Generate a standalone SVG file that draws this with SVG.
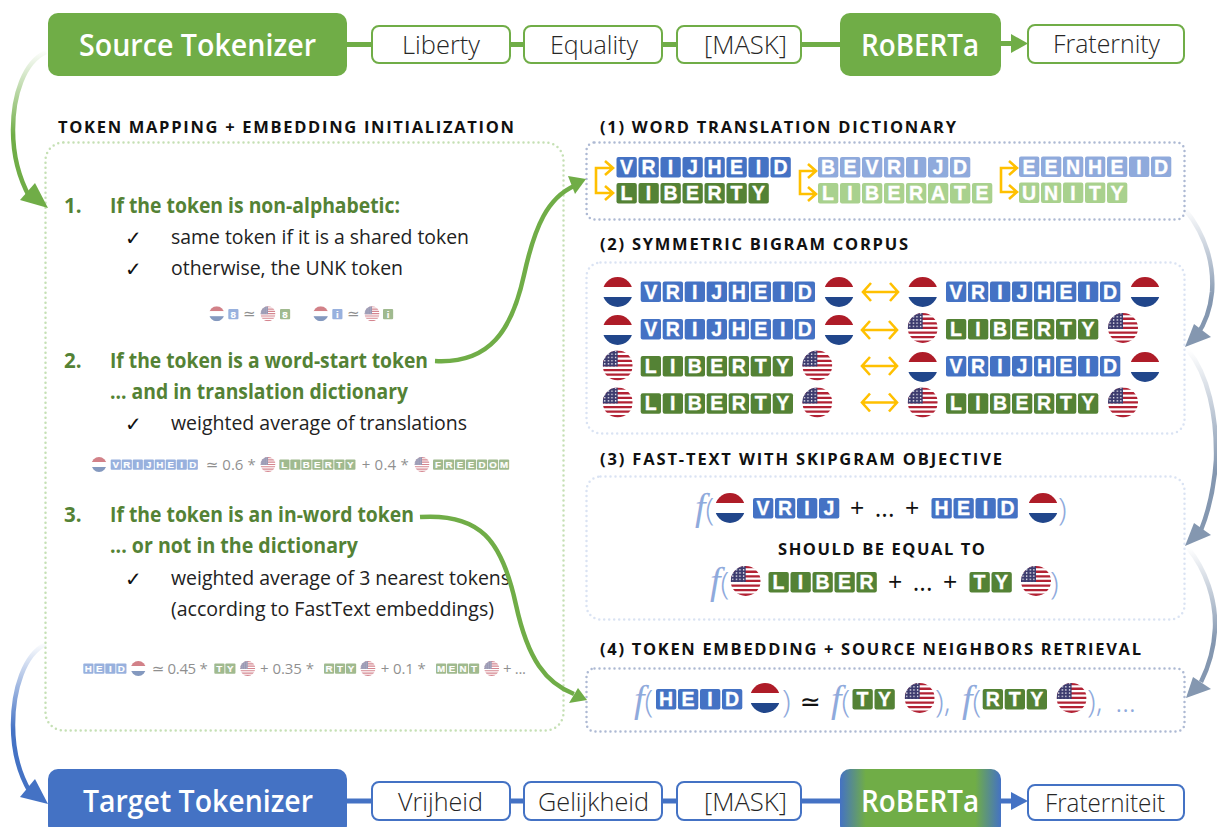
<svg xmlns="http://www.w3.org/2000/svg" xmlns:xlink="http://www.w3.org/1999/xlink" width="1217" height="827" viewBox="0 0 1217 827">
<style>
text{font-family:"Open Sans","Noto Sans","DejaVu Sans",sans-serif}
.head{font-size:31px;font-weight:600;fill:#fff;text-anchor:middle}
.tok{font-size:26px;font-weight:300;fill:#262626;text-anchor:middle}
.sec{font-size:16.500px;font-weight:700;fill:#111}
.gr{font-size:20.500px;font-weight:700;fill:#548235}
.bd{font-size:19.500px;fill:#222}
.ck{font-size:20px;fill:#111;font-family:"DejaVu Sans",sans-serif}
.fm{font-size:15px;fill:#353535}
.t{font-family:"Liberation Sans",Arial,sans-serif;font-weight:700;font-size:19.500px;fill:#fff;stroke:#fff;stroke-width:.35;text-anchor:middle}
.f{font-family:"Liberation Serif",serif;font-style:italic;font-size:38px;fill:#8faadc}
.p{font-weight:300;font-size:32px;fill:#8faadc}
.o{font-size:25px;fill:#111;word-spacing:4px}
.sg{fill:#70ad47}.sb{fill:#4472c4}
.bxg{fill:#fff;stroke:#70ad47;stroke-width:2}
.bxb{fill:#fff;stroke:#4472c4;stroke-width:2}
.lg{stroke:#70ad47;stroke-width:5;fill:none}
.lb{stroke:#4472c4;stroke-width:5;fill:none}
.dot{fill:none;stroke-width:2.500;stroke-linecap:round;stroke-dasharray:0 5}
.vb{fill:#4472c4}.lib{fill:#548235}.vbl{fill:#8faadc}.libl{fill:#a9d18e}
.or{fill:none;stroke:#ffc000;stroke-width:2.600}
.cg{fill:none;stroke-width:4.500}
</style>
<defs>
<linearGradient id="gs" gradientUnits="userSpaceOnUse" x1="0" y1="50" x2="0" y2="135"><stop offset="0" stop-color="#70ad47" stop-opacity="0"/><stop offset="1" stop-color="#70ad47"/></linearGradient>
<linearGradient id="gt" gradientUnits="userSpaceOnUse" x1="0" y1="642" x2="0" y2="730"><stop offset="0" stop-color="#4472c4" stop-opacity="0"/><stop offset="1" stop-color="#4472c4"/></linearGradient>
<linearGradient id="g1" gradientUnits="userSpaceOnUse" x1="0" y1="208" x2="0" y2="300"><stop offset="0" stop-color="#8497b0" stop-opacity="0"/><stop offset="1" stop-color="#8497b0"/></linearGradient>
<linearGradient id="g2" gradientUnits="userSpaceOnUse" x1="0" y1="350" x2="0" y2="470"><stop offset="0" stop-color="#8497b0" stop-opacity="0"/><stop offset="1" stop-color="#8497b0"/></linearGradient>
<linearGradient id="g3" gradientUnits="userSpaceOnUse" x1="0" y1="548" x2="0" y2="640"><stop offset="0" stop-color="#8497b0" stop-opacity="0"/><stop offset="1" stop-color="#8497b0"/></linearGradient>
<linearGradient id="rb" x1="0" y1="0" x2="1" y2="0"><stop offset="0" stop-color="#4472c4"/><stop offset=".16" stop-color="#70ad47"/><stop offset=".84" stop-color="#70ad47"/><stop offset="1" stop-color="#4472c4"/></linearGradient>
<clipPath id="cc"><circle r="15"/></clipPath>
<pattern id="stars" width="3.600" height="3.200" patternUnits="userSpaceOnUse"><circle cx="1.500" cy="1.500" r=".75" fill="#fff"/></pattern>
<g id="nl" clip-path="url(#cc)"><rect x="-15" y="-15" width="30" height="10" fill="#ae1c28"/><rect x="-15" y="-5" width="30" height="10" fill="#fff"/><rect x="-15" y="5" width="30" height="10" fill="#21468b"/></g>
<g id="us" clip-path="url(#cc)"><rect x="-15" y="-15" width="30" height="30" fill="#fff"/><path fill="#b22234" d="M-15-15h30v2.300h-30zM-15-10.400h30v2.300h-30zM-15-5.800h30v2.300h-30zM-15-1.200h30v2.300h-30zM-15 3.400h30v2.300h-30zM-15 8h30v2.300h-30zM-15 12.600h30v2.400h-30z"/><rect x="-15" y="-15" width="15" height="16" fill="#3c3b6e"/><rect x="-15" y="-15" width="15" height="16" fill="url(#stars)"/></g>
<rect id="c" width="20.300" height="20.500" rx="2"/>
<g id="r1"><use xlink:href="#c"/></g>
<g id="r2"><use xlink:href="#r1"/><use xlink:href="#c" x="22"/></g>
<g id="r3"><use xlink:href="#r2"/><use xlink:href="#c" x="44"/></g>
<g id="r4"><use xlink:href="#r3"/><use xlink:href="#c" x="66"/></g>
<g id="r5"><use xlink:href="#r4"/><use xlink:href="#c" x="88"/></g>
<g id="r7"><use xlink:href="#r5"/><use xlink:href="#c" x="110"/><use xlink:href="#c" x="132"/></g>
<g id="r8"><use xlink:href="#r7"/><use xlink:href="#c" x="154"/></g>
<path id="dbl" class="or" d="M0 0H35M8-9L0 0L8 9M27-9L35 0L27 9"/>
</defs>
<rect width="1217" height="827" fill="#fff"/>

<g id="source-tokenizer"><rect class="sg" x="48" y="13" width="299" height="63" rx="10"/><text class="head" x="197.500" y="56" textLength="237" lengthAdjust="spacingAndGlyphs">Source Tokenizer</text></g>
<g id="tok-liberty"><rect class="bxg" x="372" y="26" width="138" height="37" rx="7"/><text class="tok" x="441" y="54" textLength="78" lengthAdjust="spacingAndGlyphs">Liberty</text></g>
<g id="tok-equality"><rect class="bxg" x="524" y="26" width="138" height="37" rx="7"/><text class="tok" x="594" y="54" textLength="88" lengthAdjust="spacingAndGlyphs">Equality</text></g>
<g id="tok-mask-src"><rect class="bxg" x="677" y="26" width="124" height="37" rx="7"/><text class="tok" x="745.500" y="54" textLength="83" lengthAdjust="spacingAndGlyphs">[MASK]</text></g>
<g id="roberta-src"><rect class="sg" x="840" y="13" width="161" height="63" rx="10"/><text class="head" x="920" y="56" textLength="118" lengthAdjust="spacingAndGlyphs">RoBERTa</text></g>
<g id="tok-fraternity"><rect class="bxg" x="1028" y="25" width="156" height="38" rx="7"/><text class="tok" x="1106.500" y="53" textLength="107" lengthAdjust="spacingAndGlyphs">Fraternity</text></g>

<g id="target-tokenizer"><rect class="sb" x="48" y="769" width="299" height="66" rx="10"/><text class="head" x="198" y="812" textLength="230" lengthAdjust="spacingAndGlyphs">Target Tokenizer</text></g>
<g id="tok-vrijheid"><rect class="bxb" x="372" y="782" width="138" height="38" rx="7"/><text class="tok" x="440.500" y="811" textLength="85" lengthAdjust="spacingAndGlyphs">Vrijheid</text></g>
<g id="tok-gelijkheid"><rect class="bxb" x="524" y="782" width="138" height="38" rx="7"/><text class="tok" x="593.500" y="811" textLength="111" lengthAdjust="spacingAndGlyphs">Gelijkheid</text></g>
<g id="tok-mask-tgt"><rect class="bxb" x="677" y="782" width="124" height="38" rx="7"/><text class="tok" x="745.500" y="811" textLength="83" lengthAdjust="spacingAndGlyphs">[MASK]</text></g>
<g id="roberta-tgt"><rect fill="url(#rb)" x="840" y="769" width="161" height="66" rx="10"/><text class="head" x="920" y="812" textLength="118" lengthAdjust="spacingAndGlyphs">RoBERTa</text></g>
<g id="tok-fraterniteit"><rect class="bxb" x="1028" y="785" width="156" height="35" rx="7"/><text class="tok" x="1105" y="812" textLength="120" lengthAdjust="spacingAndGlyphs">Fraterniteit</text></g>

<g id="token-mapping">
<text class="sec" x="58" y="133" textLength="456">TOKEN MAPPING + EMBEDDING INITIALIZATION</text>
<rect class="dot" stroke="#c5e0b4" x="45.500" y="142.500" width="518" height="588" rx="18"/>
<text class="gr" x="64" y="213">1.</text>
<text class="gr" x="110" y="213" textLength="290" lengthAdjust="spacingAndGlyphs">If the token is non-alphabetic:</text>
<text class="ck" x="125" y="245">✓</text><text class="bd" x="171" y="244" textLength="298" lengthAdjust="spacingAndGlyphs">same token if it is a shared token</text>
<text class="ck" x="125" y="276">✓</text><text class="bd" x="171" y="275" textLength="232" lengthAdjust="spacingAndGlyphs">otherwise, the UNK token</text>
<g opacity=".55">
<use xlink:href="#nl" transform="translate(216.700 313.700) scale(.5)"/>
<g class="vb" transform="translate(228.300 309) scale(.5)"><use xlink:href="#r1"/><text class="t" x="10 32" y="17">8</text></g>
<text class="fm" x="243" y="319">≃</text>
<use xlink:href="#us" transform="translate(268 313.700) scale(.5)"/>
<g class="lib" transform="translate(280 309) scale(.5)"><use xlink:href="#r1"/><text class="t" x="10 32" y="17">8</text></g>
<use xlink:href="#nl" transform="translate(320.700 313.700) scale(.5)"/>
<g class="vb" transform="translate(332.300 309) scale(.5)"><use xlink:href="#r1"/><text class="t" x="10 32" y="17">i</text></g>
<text class="fm" x="347" y="319">≃</text>
<use xlink:href="#us" transform="translate(372 313.700) scale(.5)"/>
<g class="lib" transform="translate(383 309) scale(.5)"><use xlink:href="#r1"/><text class="t" x="10 32" y="17">i</text></g>
</g>
<text class="gr" x="64" y="368">2.</text>
<text class="gr" x="110" y="368" textLength="318" lengthAdjust="spacingAndGlyphs">If the token is a word-start token</text>
<text class="gr" x="110" y="399" textLength="298" lengthAdjust="spacingAndGlyphs">... and in translation dictionary</text>
<text class="ck" x="125" y="431">✓</text><text class="bd" x="171" y="430" textLength="296" lengthAdjust="spacingAndGlyphs">weighted average of translations</text>
<g opacity=".55">
<use xlink:href="#nl" transform="translate(99 464.500) scale(.5)"/>
<g class="vb" transform="translate(110.700 459.500) scale(.5)"><use xlink:href="#r8"/><text class="t" x="10 32 54 76 98 120 142 164" y="17">VRIJHEID</text></g>
<text class="fm" x="205.700" y="470" textLength="50">≃ 0.6 *</text>
<use xlink:href="#us" transform="translate(268 464.500) scale(.5)"/>
<g class="lib" transform="translate(279.300 459.500) scale(.5)"><use xlink:href="#r7"/><text class="t" x="10 32 54 76 98 120 142 164" y="17">LIBERTY</text></g>
<text class="fm" x="361.700" y="470" textLength="47">+ 0.4 *</text>
<use xlink:href="#us" transform="translate(422 464.500) scale(.5)"/>
<g class="lib" transform="translate(433 459.500) scale(.5)"><use xlink:href="#r7"/><text class="t" x="10 32 54 76 98 120 142 164" y="17">FREEDOM</text></g>
</g>
<text class="gr" x="64" y="522">3.</text>
<text class="gr" x="110" y="522" textLength="304" lengthAdjust="spacingAndGlyphs">If the token is an in-word token</text>
<text class="gr" x="110" y="553" textLength="248" lengthAdjust="spacingAndGlyphs">... or not in the dictionary</text>
<text class="ck" x="125" y="586">✓</text><text class="bd" x="171" y="585" textLength="339" lengthAdjust="spacingAndGlyphs">weighted average of 3 nearest tokens</text>
<text class="bd" x="171" y="616" textLength="323" lengthAdjust="spacingAndGlyphs">(according to FastText embeddings)</text>
<g opacity=".55">
<g class="vb" transform="translate(83.300 663.500) scale(.5)"><use xlink:href="#r4"/><text class="t" x="10 32 54 76 98 120 142 164" y="17">HEID</text></g>
<use xlink:href="#nl" transform="translate(138.300 668.500) scale(.5)"/>
<text class="fm" x="151.700" y="674" textLength="56">≃ 0.45 *</text>
<g class="lib" transform="translate(214.300 663.500) scale(.5)"><use xlink:href="#r2"/><text class="t" x="10 32 54 76 98 120 142 164" y="17">TY</text></g>
<use xlink:href="#us" transform="translate(247.700 668.500) scale(.5)"/>
<text class="fm" x="260" y="674" textLength="54">+ 0.35 *</text>
<g class="lib" transform="translate(324 663.500) scale(.5)"><use xlink:href="#r3"/><text class="t" x="10 32 54 76 98 120 142 164" y="17">RTY</text></g>
<use xlink:href="#us" transform="translate(368 668.500) scale(.5)"/>
<text class="fm" x="380.700" y="674" textLength="45">+ 0.1 *</text>
<g class="lib" transform="translate(436 663.500) scale(.5)"><use xlink:href="#r4"/><text class="t" x="10 32 54 76 98 120 142 164" y="17">MENT</text></g>
<use xlink:href="#us" transform="translate(491.700 668.500) scale(.5)"/>
<text class="fm" x="503" y="674" textLength="23">+ ...</text>
</g>
</g>

<g id="word-translation-dictionary">
<text class="sec" x="600" y="133" textLength="356">(1) WORD TRANSLATION DICTIONARY</text>
<rect class="dot" stroke="#adb9d3" x="586.500" y="142.500" width="598" height="77" rx="8"/>
<path class="or" d="M612 168H596V193H612M605 161L613 168L605 175M605 186L613 193L605 200"/>
<path class="or" d="M815 171H800V194H815M808 164L816 171L808 178M808 187L816 194L808 201"/>
<path class="or" d="M1016 168H1001V192H1016M1009 161L1017 168L1009 175M1009 185L1017 192L1009 199"/>
<g class="vb" transform="translate(616.500 157)"><use xlink:href="#r8"/><text class="t" x="10 32 54 76 98 120 142 164" y="17">VRIJHEID</text></g>
<g class="lib" transform="translate(616.500 183)"><use xlink:href="#r7"/><text class="t" x="10 32 54 76 98 120 142 164" y="17">LIBERTY</text></g>
<g class="vbl" transform="translate(818 157)"><use xlink:href="#r7"/><text class="t" x="10 32 54 76 98 120 142 164" y="17">BEVRIJD</text></g>
<g class="libl" transform="translate(818 183)"><use xlink:href="#r8"/><text class="t" x="10 32 54 76 98 120 142 164" y="17">LIBERATE</text></g>
<g class="vbl" transform="translate(1019 156.500)"><use xlink:href="#r7"/><text class="t" x="10 32 54 76 98 120 142 164" y="17">EENHEID</text></g>
<g class="libl" transform="translate(1019 182.500)"><use xlink:href="#r5"/><text class="t" x="10 32 54 76 98 120 142 164" y="17">UNITY</text></g>
</g>

<g id="symmetric-bigram-corpus">
<text class="sec" x="600" y="250" textLength="308">(2) SYMMETRIC BIGRAM CORPUS</text>
<rect class="dot" stroke="#dae3f3" x="586.500" y="262.500" width="598" height="171" rx="14"/>
<use xlink:href="#nl" x="617.700" y="292"/>
<g class="vb" transform="translate(640.700 281.500)"><use xlink:href="#r8"/><text class="t" x="10 32 54 76 98 120 142 164" y="17">VRIJHEID</text></g>
<use xlink:href="#nl" x="839" y="292"/>
<use xlink:href="#dbl" x="863" y="292"/>
<use xlink:href="#nl" x="922.700" y="292"/>
<g class="vb" transform="translate(946 281.500)"><use xlink:href="#r8"/><text class="t" x="10 32 54 76 98 120 142 164" y="17">VRIJHEID</text></g>
<use xlink:href="#nl" x="1145" y="292"/>
<use xlink:href="#nl" x="617.700" y="330"/>
<g class="vb" transform="translate(640.700 319)"><use xlink:href="#r8"/><text class="t" x="10 32 54 76 98 120 142 164" y="17">VRIJHEID</text></g>
<use xlink:href="#nl" x="839" y="330"/>
<use xlink:href="#dbl" x="862" y="330"/>
<use xlink:href="#us" x="922.700" y="328"/>
<g class="lib" transform="translate(946 319)"><use xlink:href="#r7"/><text class="t" x="10 32 54 76 98 120 142 164" y="17">LIBERTY</text></g>
<use xlink:href="#us" x="1123" y="328"/>
<use xlink:href="#us" x="617.700" y="365.500"/>
<g class="lib" transform="translate(640.700 356)"><use xlink:href="#r7"/><text class="t" x="10 32 54 76 98 120 142 164" y="17">LIBERTY</text></g>
<use xlink:href="#us" x="817.300" y="365.500"/>
<use xlink:href="#dbl" x="862" y="366"/>
<use xlink:href="#nl" x="922.700" y="367"/>
<g class="vb" transform="translate(946 356)"><use xlink:href="#r8"/><text class="t" x="10 32 54 76 98 120 142 164" y="17">VRIJHEID</text></g>
<use xlink:href="#nl" x="1145" y="367"/>
<use xlink:href="#us" x="617.700" y="402.500"/>
<g class="lib" transform="translate(640.700 393.300)"><use xlink:href="#r7"/><text class="t" x="10 32 54 76 98 120 142 164" y="17">LIBERTY</text></g>
<use xlink:href="#us" x="817.300" y="402.500"/>
<use xlink:href="#dbl" x="862" y="402.500"/>
<use xlink:href="#us" x="922.700" y="402.500"/>
<g class="lib" transform="translate(946 393.300)"><use xlink:href="#r7"/><text class="t" x="10 32 54 76 98 120 142 164" y="17">LIBERTY</text></g>
<use xlink:href="#us" x="1123" y="402.500"/>
</g>

<g id="fast-text">
<text class="sec" x="600" y="465" textLength="402">(3) FAST-TEXT WITH SKIPGRAM OBJECTIVE</text>
<rect class="dot" stroke="#dae3f3" x="586.500" y="476.500" width="598" height="143" rx="14"/>
<text x="695" y="520"><tspan class="f">f</tspan><tspan class="p">(</tspan></text>
<use xlink:href="#nl" x="730" y="508"/>
<g class="vb" transform="translate(753 498)"><use xlink:href="#r4"/><text class="t" x="10 32 54 76 98 120 142 164" y="17">VRIJ</text></g>
<text class="o" x="850" y="517">+ ... +</text>
<g class="vb" transform="translate(931.500 498)"><use xlink:href="#r4"/><text class="t" x="10 32 54 76 98 120 142 164" y="17">HEID</text></g>
<use xlink:href="#nl" x="1043" y="508"/>
<text class="p" x="1058" y="520">)</text>
<text class="sec" x="778" y="555" textLength="207">SHOULD BE EQUAL TO</text>
<text x="710" y="594"><tspan class="f">f</tspan><tspan class="p">(</tspan></text>
<use xlink:href="#us" x="745.700" y="581"/>
<g class="lib" transform="translate(768.500 572)"><use xlink:href="#r5"/><text class="t" x="10 32 54 76 98 120 142 164" y="17">LIBER</text></g>
<text class="o" x="888" y="591">+ ... +</text>
<g class="lib" transform="translate(969.500 572)"><use xlink:href="#r2"/><text class="t" x="10 32 54 76 98 120 142 164" y="17">TY</text></g>
<use xlink:href="#us" x="1036" y="581"/>
<text class="p" x="1050" y="594">)</text>
</g>

<g id="token-embedding">
<text class="sec" x="600" y="655" textLength="541">(4) TOKEN EMBEDDING + SOURCE NEIGHBORS RETRIEVAL</text>
<rect class="dot" stroke="#adb9d3" x="586.500" y="668.500" width="598" height="63" rx="8"/>
<text x="634" y="712"><tspan class="f">f</tspan><tspan class="p">(</tspan></text>
<g class="vb" transform="translate(656 689)"><use xlink:href="#r4"/><text class="t" x="10 32 54 76 98 120 142 164" y="17">HEID</text></g>
<use xlink:href="#nl" x="765" y="698"/>
<text class="p" x="782" y="712">)</text>
<text class="o" x="800" y="710" style="font-family:'DejaVu Sans',sans-serif">≃</text>
<text x="831" y="712"><tspan class="f">f</tspan><tspan class="p">(</tspan></text>
<g class="lib" transform="translate(852.500 689)"><use xlink:href="#r2"/><text class="t" x="10 32 54 76 98 120 142 164" y="17">TY</text></g>
<use xlink:href="#us" x="919.700" y="698"/>
<text class="p" x="935" y="712">),</text>
<text x="962" y="712"><tspan class="f">f</tspan><tspan class="p">(</tspan></text>
<g class="lib" transform="translate(982.700 689)"><use xlink:href="#r3"/><text class="t" x="10 32 54 76 98 120 142 164" y="17">RTY</text></g>
<use xlink:href="#us" x="1071.600" y="698"/>
<text class="p" x="1087" y="712">),</text>
<text class="p" x="1115" y="712" textLength="21">...</text>
</g>

<g id="connectors">
<path class="lg" d="M347 44.500H372M510 44.500H524M662 44.500H677M801 44.500H840M1001 43.500H1012"/>
<path class="sg" d="M1011 34L1028 43.500L1011 53Z"/>
<path class="lb" d="M347 801H372M510 801H524M662 801H677M801 801H840M1001 801H1012"/>
<path class="sb" d="M1011 792L1028 801L1011 810Z"/>
<path class="cg" stroke="url(#gs)" d="M46 52C24 62 13 95 13 130C13 158 20 180 30 198"/>
<path class="sg" d="M48 208L20 200L35 183Z"/>
<path class="cg" stroke="url(#gt)" d="M46 644C24 654 13 690 13 725C13 752 20 775 30 792"/>
<path class="sb" d="M48 804L20 797L35 779Z"/>
<path class="cg" stroke="#70ad47" d="M435 361C490 364 512 330 524 275C535 225 548 198 574 186"/>
<path class="sg" d="M586 179L575 194L568 176Z"/>
<path class="cg" stroke="#70ad47" d="M420 517C480 513 502 540 516 605C528 660 546 683 574 694"/>
<path class="sg" d="M587 700L569 703L578 688Z"/>
<path class="cg" stroke="url(#g1)" d="M1184 208C1206 235 1214 265 1212 292C1210 312 1204 325 1197 335"/>
<path fill="#8497b0" d="M1185 347L1194 324L1211 337Z"/>
<path class="cg" stroke="url(#g2)" d="M1188 350C1208 375 1217 415 1216 460C1214 490 1209 510 1201 530"/>
<path fill="#8497b0" d="M1185 546L1194 523L1211 535Z"/>
<path class="cg" stroke="url(#g3)" d="M1188 548C1206 570 1216 600 1215 628C1214 650 1208 668 1201 682"/>
<path fill="#8497b0" d="M1186 698L1193 677L1211 689Z"/>
</g>
</svg>
